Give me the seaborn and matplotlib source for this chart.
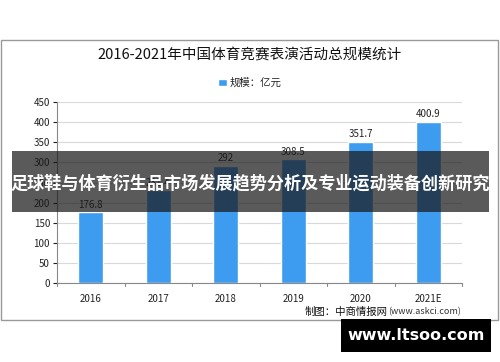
import matplotlib
matplotlib.use("Agg")
import matplotlib.pyplot as plt
import seaborn as sns
import pandas as pd
from matplotlib.patches import Rectangle

years = ["2016", "2017", "2018", "2019", "2020", "2021E"]
values = [176.8, 231.4, 292, 308.5, 351.7, 400.9]
value_labels = ["176.8", "231.4", "292", "308.5", "351.7", "400.9"]
title = "2016-2021年中国体育竞赛表演活动总规模统计"
legend_label = "规模：亿元"
source = "制图：中商情报网"
source_url = "(www.askci.com)"
banner = "足球鞋与体育衍生品市场发展趋势分析及专业运动装备创新研究"
site = "www.ltsoo.com"
yticks = [0, 50, 100, 150, 200, 250, 300, 350, 400, 450]

sns.set_theme(style="white")
plt.rcParams['font.family'] = ['Noto Sans CJK SC', 'DejaVu Sans']

df = pd.DataFrame({"year": years, "value": values})
fig = plt.figure(figsize=(5, 3.62), dpi=100)
fig.patch.set_facecolor("white")
ax = fig.add_axes([0.114, 0.218, 0.81, 0.50])
sns.barplot(data=df, x="year", y="value", color="#3d9cf0", width=0.37, ax=ax,
            saturation=1, label=legend_label)
ax.set_ylim(0, 450)
ax.set_yticks(yticks)
ax.set_xlim(-0.5, 5.5)
ax.yaxis.grid(True, color="#d9d9d9", linewidth=0.8)
ax.set_axisbelow(True)
for s in ["top", "right"]:
    ax.spines[s].set_visible(False)
for s in ["left", "bottom"]:
    ax.spines[s].set_color("#888888")
    ax.spines[s].set_linewidth(0.8)
ax.set_xlabel("")
ax.set_ylabel("")
ax.tick_params(axis="both", labelsize=7, colors="#222222", length=3, width=0.8, direction="out",
               left=True, bottom=False, pad=2)
ax.tick_params(axis="x", pad=5)
# category separators on x axis
for i in range(7):
    ax.plot([i - 0.5, i - 0.5], [0, -8], color="#888888", lw=0.8, clip_on=False)
for i, (v, lab) in enumerate(zip(values, value_labels)):
    ax.text(i, v + 6, lab, ha="center", va="bottom", fontsize=7, color="#222222")

fig.text(0.5, 1 - 55 / 362, title, ha="center", va="center", fontsize=10.5, color="#111111",
         fontweight="medium")
leg = ax.legend(loc="center", bbox_to_anchor=(0.5, (362 - 83) / 362), bbox_transform=fig.transFigure,
                frameon=False, fontsize=7.5, handlelength=0.8, handleheight=0.8, handletextpad=0.3)
fig.text(305 / 500, 1 - 312 / 362, source, ha="left", va="center", fontsize=7.5, color="#111111")
fig.text(461 / 500, 1 - 312 / 362, source_url, ha="right", va="center", fontsize=6.5, color="#333333")

# chart border
fig.patches.append(Rectangle((1 / 500, 1 - 320 / 362), 497 / 500, (320 - 40) / 362,
                             transform=fig.transFigure, fill=False, edgecolor="#999999", lw=1))
# dark banner
fig.patches.append(Rectangle((12 / 500, 1 - 212 / 362), 477 / 500, 61 / 362,
                             transform=fig.transFigure, facecolor="#1a1a1a", alpha=0.72,
                             edgecolor="none", zorder=10))
fig.text(250 / 500, 1 - 183 / 362, banner, ha="center", va="center", fontsize=12.3,
         color="white", fontweight="bold", zorder=11)
# site box
fig.patches.append(Rectangle((341 / 500, 1 - 352 / 362), 150 / 500, 33 / 362,
                             transform=fig.transFigure, facecolor="black", edgecolor="none", zorder=10))
fig.text(416 / 500, 1 - 336 / 362, site, ha="center", va="center", fontsize=11.5,
         color="white", fontweight="bold", zorder=11, family="DejaVu Sans")

fig.savefig("out.png", dpi=100)
